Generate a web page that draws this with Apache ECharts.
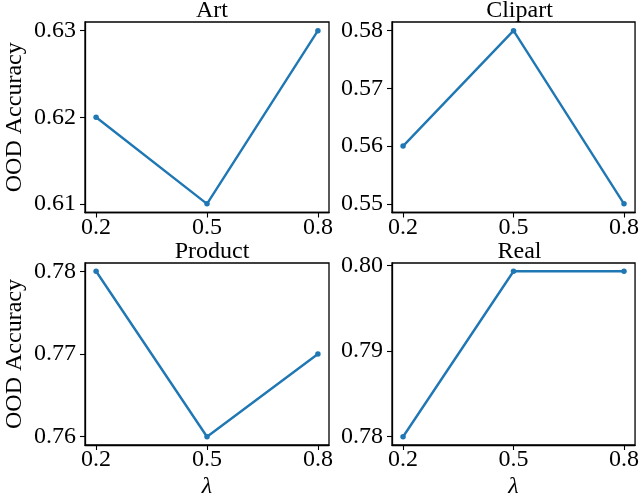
<!DOCTYPE html>
<html>
<head>
<meta charset="utf-8">
<script src="https://cdn.jsdelivr.net/npm/echarts@6/dist/echarts.min.js"></script>
<style>html,body{margin:0;padding:0;background:#fff}#c{width:642px;height:500px}</style>
</head>
<body>
<div id="c"></div>
<script>
// ---- data ----
const lambdas = [0.2, 0.5, 0.8];
const xTickValues = [0.2, 0.5, 0.8];
const panelTitles = ['Art', 'Clipart', 'Product', 'Real'];
const artValues = [0.62, 0.61, 0.63];
const clipartValues = [0.56, 0.58, 0.55];
const productValues = [0.78, 0.76, 0.77];
const realValues = [0.78, 0.7993, 0.7993];
const artTicks = [0.61, 0.62, 0.63];
const clipartTicks = [0.55, 0.56, 0.57, 0.58];
const productTicks = [0.76, 0.77, 0.78];
const realTicks = [0.78, 0.79, 0.80];
const yLabel = 'OOD Accuracy';
const xLabel = 'λ';

// ---- layout ----
const FONT = 'Liberation Serif';
const FS = 24;
const COLOR = '#1f77b4';
const grids = [
  {left: 85, top: 22, width: 244, height: 190.5},
  {left: 392, top: 22, width: 245, height: 190.5},
  {left: 85, top: 263, width: 244, height: 190},
  {left: 392, top: 263, width: 245, height: 190}
];
const seriesValues = [artValues, clipartValues, productValues, realValues];
const tickSets = [artTicks, clipartTicks, productTicks, realTicks];

function pad(arr) {
  const lo = Math.min(...arr), hi = Math.max(...arr);
  const m = (hi - lo) * 0.05;
  return [lo - m, hi + m];
}
const xr = pad(lambdas);

const option = {
  backgroundColor: '#fff',
  animation: false,
  title: grids.map((g, i) => ({
    text: panelTitles[i],
    left: g.left + g.width / 2,
    top: g.top - 28,
    textAlign: 'center',
    textStyle: {fontFamily: FONT, fontSize: FS, fontWeight: 'normal', color: '#000'}
  })),
  grid: grids.map(g => Object.assign({show: true, borderColor: '#000', borderWidth: 1.3, backgroundColor: 'transparent'}, g)),
  xAxis: grids.map((g, i) => ({
    type: 'value', gridIndex: i, min: xr[0], max: xr[1],
    name: i >= 2 ? xLabel : '',
    nameLocation: 'middle', nameGap: 30,
    nameTextStyle: {fontFamily: FONT, fontSize: FS, fontStyle: 'italic', color: '#000'},
    axisLine: {show: true, lineStyle: {color: '#000', width: 1.3}},
    axisTick: {show: true, inside: false, length: 5, customValues: xTickValues, lineStyle: {color: '#000', width: 1.1}},
    axisLabel: {customValues: xTickValues, margin: 3, fontFamily: FONT, fontSize: FS, color: '#000', formatter: v => v.toFixed(1)},
    splitLine: {show: false}
  })),
  yAxis: grids.map((g, i) => {
    const r = pad(seriesValues[i]);
    return {
      type: 'value', gridIndex: i, min: r[0], max: r[1],
      name: (i % 2 === 0) ? yLabel : '',
      nameLocation: 'middle', nameGap: 58,
      nameTextStyle: {fontFamily: FONT, fontSize: FS, color: '#000'},
      axisLine: {show: true, lineStyle: {color: '#000', width: 1.3}},
      axisTick: {show: true, inside: false, length: 5, customValues: tickSets[i], lineStyle: {color: '#000', width: 1.1}},
      axisLabel: {customValues: tickSets[i], margin: 9, fontFamily: FONT, fontSize: FS, color: '#000', formatter: v => v.toFixed(2)},
      splitLine: {show: false}
    };
  }),
  series: seriesValues.map((vals, i) => ({
    type: 'line', xAxisIndex: i, yAxisIndex: i,
    data: lambdas.map((x, k) => [x, vals[k]]),
    symbol: 'circle', symbolSize: 5.5,
    lineStyle: {color: COLOR, width: 2.4},
    itemStyle: {color: COLOR},
    clip: false
  }))
};
echarts.init(document.getElementById('c')).setOption(option);
</script>
</body>
</html>
